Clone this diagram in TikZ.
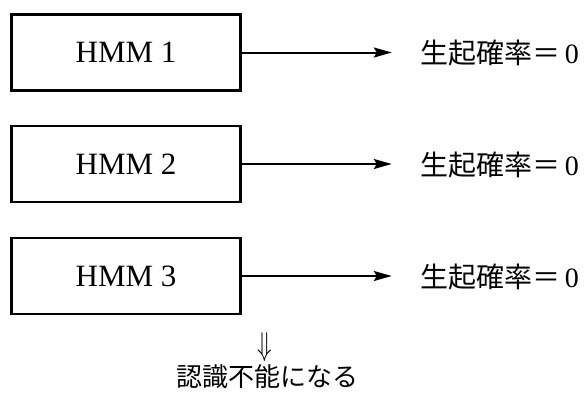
\documentclass[tikz,border=0pt]{standalone}
\usepackage{fontspec}
\usepackage{graphicx}
\setmainfont{Liberation Serif}
\newfontfamily\cjk{Noto Sans CJK JP}
\usetikzlibrary{arrows.meta}
\begin{document}
\begin{tikzpicture}[x=1pt,y=-1pt,
  hmmbox/.style={draw,line width=2.6pt,minimum width=229pt,minimum height=76pt,inner sep=0pt,font=\fontsize{31}{33}\selectfont},
  conn/.style={line width=2pt,-{Stealth[length=18pt,width=10pt,inset=3pt]}},
  prob/.style={anchor=west,inner sep=0pt,font=\cjk\fontsize{28}{30}\selectfont}]
\useasboundingbox (0,0) rectangle (584,399);
\node[hmmbox] (h1) at (126,52.5) {HMM 1};
\node[hmmbox] (h2) at (126,164) {HMM 2};
\node[hmmbox] (h3) at (126,276) {HMM 3};
\node[prob] (p1) at (420,53) {生起確率＝\,\rmfamily 0};
\node[prob] (p2) at (420,165) {生起確率＝\,\rmfamily 0};
\node[prob] (p3) at (420,277) {生起確率＝\,\rmfamily 0};
\draw[conn] (h1.east) -- ++(150,0) coordinate (e1);
\draw[conn] (h2.east) -- ++(150,0) coordinate (e2);
\draw[conn] (h3.east) -- ++(150,0) coordinate (e3);
\node[inner sep=0pt] (dar) at (265,347) {\scalebox{2.4}[3.3]{$\Downarrow$}};
\node[inner sep=0pt,font=\cjk\fontsize{26}{28}\selectfont] (res) at (267,377) {認識不能になる};
\end{tikzpicture}
\end{document}
